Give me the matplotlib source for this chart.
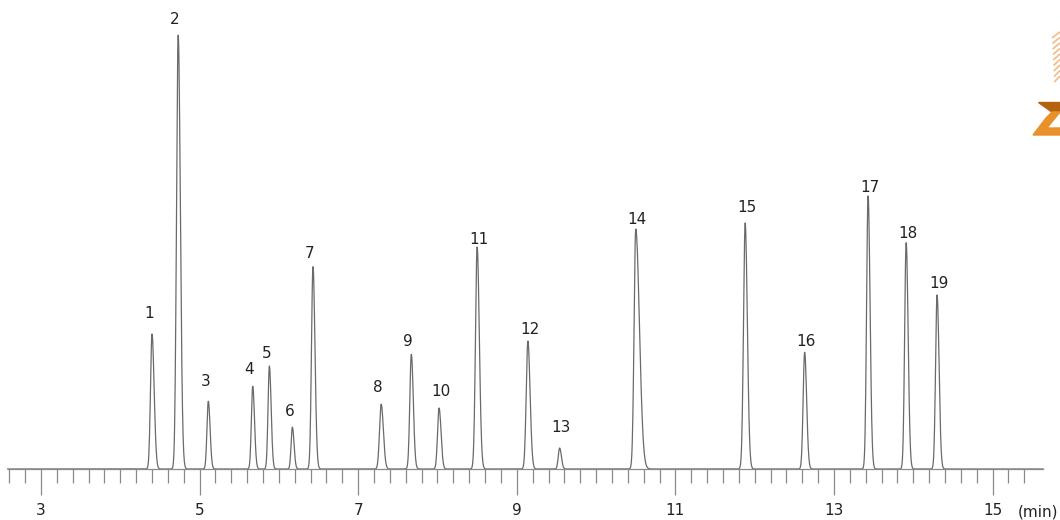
import numpy as np
import matplotlib
matplotlib.use("Agg")
import matplotlib.pyplot as plt
from matplotlib.ticker import FixedLocator
from matplotlib.patches import Polygon

# peak table
peak_ids = list(range(1, 20))
ret_times = [4.40, 4.73, 5.11, 5.67, 5.88, 6.17, 6.43, 7.29, 7.67, 8.02,
             8.50, 9.14, 9.54, 10.50, 11.88, 12.63, 13.43, 13.91, 14.30]
heights = [135, 435, 68, 83, 103, 42, 203, 65, 115, 61,
           222, 128, 21, 240, 246, 117, 274, 227, 174]
widths = [0.019, 0.021, 0.017, 0.017, 0.017, 0.016, 0.019, 0.021, 0.019, 0.019,
          0.021, 0.021, 0.017, 0.021, 0.021, 0.019, 0.019, 0.019, 0.019]
tailing = [1.4, 1.3, 1.3, 1.3, 1.3, 1.3, 1.3, 1.3, 1.3, 1.3,
           1.3, 1.3, 1.3, 2.2, 1.3, 1.3, 1.3, 1.3, 1.3]
label_gap = [20, 15, 19, 16, 13, 15, 12, 17, 12, 16, 8, 12, 21, 10, 15, 11, 7, 8, 11]

major_ticks = [3, 5, 7, 9, 11, 13, 15]
t_start, t_end = 2.58, 15.64

t = np.arange(t_start, t_end, 0.004)
signal = np.zeros_like(t)
for rt, h, w, tf in zip(ret_times, heights, widths, tailing):
    s = np.where(t < rt, w, w * tf)
    signal += h * np.exp(-0.5 * ((t - rt) / s) ** 2)

fig = plt.figure(figsize=(10.6, 5.2), dpi=100)
ax = fig.add_axes([0, 0, 1, 1])
ax.plot(t, signal, color="#6a6a6a", lw=0.9)

ax.set_xlim(2.483, 15.85)
ax.set_ylim(-51, 469)

for sp in ["top", "right", "left"]:
    ax.spines[sp].set_visible(False)
ax.spines["bottom"].set_position(("data", 0))
ax.spines["bottom"].set_bounds(t_start, t_end)
ax.spines["bottom"].set_color("#8a8a8a")
ax.spines["bottom"].set_linewidth(0.9)
ax.set_yticks([])

minor = [round(v, 1) for v in np.arange(2.6, 15.41, 0.2) if abs(v - round(v)) > 0.05 or round(v) % 2 == 0]
ax.xaxis.set_major_locator(FixedLocator(major_ticks))
ax.xaxis.set_minor_locator(FixedLocator(minor))
ax.tick_params(axis="x", which="major", length=19, width=0.9, color="#8a8a8a",
               pad=5.5, labelsize=11, labelcolor="#222222")
ax.tick_params(axis="x", which="minor", length=10, width=0.9, color="#8a8a8a")
ax.set_xticklabels([str(v) for v in major_ticks])

ax.text(15.83, -43, "(min)", fontsize=11, color="#222222", va="center", ha="right",
        clip_on=False)

for pid, rt, h, gap in zip(peak_ids, ret_times, heights, label_gap):
    ax.annotate(str(pid), xy=(rt, h), xytext=(-8, gap), textcoords="offset pixels",
                ha="left", va="center", fontsize=11, color="#222222")

# rough sketch of the corner logo
lax = fig.add_axes([0, 0, 1, 1], facecolor="none")
lax.set_xlim(0, 1060)
lax.set_ylim(520, 0)
lax.axis("off")
for i in range(9):
    y0 = 32 + i * 5.5
    lax.plot([1052 + i * 0.3, 1060], [y0 + 6, y0], color="#f0b070", lw=1.2,
             alpha=0.85, solid_capstyle="butt")
lax.add_patch(Polygon([(1038, 102), (1060, 102), (1060, 112), (1052, 112)],
                      closed=True, color="#b5620f"))
lax.add_patch(Polygon([(1052, 112), (1060, 112), (1047, 128), (1060, 128),
                       (1060, 135), (1033, 135), (1046, 118)],
                      closed=True, color="#e8902a"))

plt.savefig("out.png", dpi=100)
